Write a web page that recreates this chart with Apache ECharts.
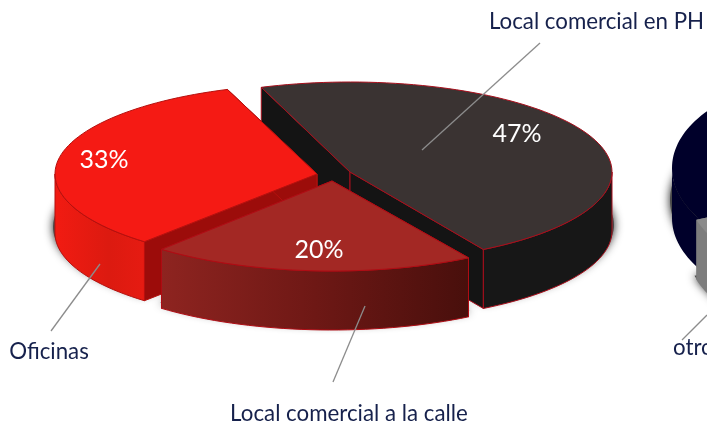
<!DOCTYPE html>
<html><head><meta charset="utf-8">
<style>html,body{margin:0;padding:0;background:#fff}#c{width:707px;height:425px}</style>
<script src="https://cdn.jsdelivr.net/npm/echarts@6/dist/echarts.min.js"></script>
</head><body><div id="c"></div>
<script>
// ---- data
const categories = ['Local comercial en PH', 'Local comercial a la calle', 'Oficinas'];
const shares = [47, 20, 33];
const otherCategories = ['', 'otros'];
const otherShares = [78, 22];

// ---- layout (screen geometry of the oblique pie)
const START = -19.4, RX = 262, RY = 90, DEPTH = 59;
const centers = [[350, 172], [332, 181], [317, 174]];
const rotate = [-0.4, -1.2, -0.6];
const labelPos = [[517, 134], [319, 250], [104, 160]];
const namePos = [[596.5, 22], [349, 414], [49, 352]];
const leaders = [[[540, 43], [422, 150]], [[365, 306], [333, 382]], [[100, 264], [51, 331]], [[707, 315], [682, 340]]];
const otherNamePos = [673, 348];
const drawOrder = [0, 2, 1];
const styles = [
  {top:'#3a3332', wall:'#141414', side:'#171717', stroke:'#a80f1c'},
  {top:'#a32824', wall:'#7a1512', side:{type:'linear',x:0,y:0,x2:1,y2:0,colorStops:[{offset:0,color:'#8e2420'},{offset:.5,color:'#6e1815'},{offset:1,color:'#480f0c'}]}, stroke:'#b00c14'},
  {top:'#f51a14', wall:'#9c0c0a', side:{type:'linear',x:0,y:0,x2:1,y2:0,colorStops:[{offset:0,color:'#f21b12'},{offset:.6,color:'#dc1a10'},{offset:1,color:'#e61b12'}]}, stroke:'#b5100e'}
];
const P2 = {c:[828,168], rx:156, ry:90, depth:50, start:220};
const G2 = {c:[843,189], rx:156, ry:90, depth:60, end:250};

function pt(c, rx, ry, deg, dy){const a=deg*Math.PI/180;return [c[0]+rx*Math.sin(a), c[1]-ry*Math.cos(a)+(dy||0)];}
function arc(c, rx, ry, a0, a1, dy){const n=Math.max(2,Math.ceil(Math.abs(a1-a0)/2)),o=[];for(let i=0;i<=n;i++)o.push(pt(c,rx,ry,a0+(a1-a0)*i/n,dy));return o;}
function poly(points, fill, stroke, w){return {type:'polygon',shape:{points},style:{fill,stroke:stroke||null,lineWidth:w||1,lineJoin:'round'}};}

function slice(c, a0, a1, rx, ry, depth, st){
  const out=[], s=pt(c,rx,ry,a0), e=pt(c,rx,ry,a1);
  const d=p=>[p[0],p[1]+depth];
  out.push(poly([s,c,d(c),d(s)],st.wall,st.stroke));
  out.push(poly([c,e,d(e),d(c)],st.wall,st.stroke));
  // front-facing part of the rim (angles measured clockwise from the top)
  [[90,270],[450,630]].forEach(r=>{
    const f0=Math.max(a0,r[0]), f1=Math.min(a1,r[1]);
    if(f1>f0){
      const t=arc(c,rx,ry,f0,f1,0), b=arc(c,rx,ry,f1,f0,depth);
      out.push(poly(t.concat(b),st.side,st.stroke));
    }
  });
  out.push(poly([c].concat(arc(c,rx,ry,a0,a1,0)),st.top,st.stroke));
  return out;
}
function shadow(c, a0, a1, rx, ry, dy){
  return {type:'polygon',shape:{points:[[c[0],c[1]+dy]].concat(arc(c,rx+2,ry,a0,a1,dy))},
    style:{fill:'#4a4a4a',shadowBlur:10,shadowColor:'rgba(30,30,30,1)'}};
}

const total = shares.reduce((a,b)=>a+b,0);
const angles=[];let acc=START;
shares.forEach((v,i)=>{const w=v/total*360;angles.push([acc+rotate[i],acc+rotate[i]+w]);acc+=w;});
const otherTotal=otherShares.reduce((a,b)=>a+b,0);

function renderNavy(){
  const st={top:'#00002a',wall:'#00002a',side:'#00002a'};
  const a0=P2.start,a1=a0+otherShares[0]/otherTotal*360;
  return {type:'group',children:[shadow(P2.c,a0,a1,P2.rx,P2.ry,P2.depth-18)].concat(slice(P2.c,a0,a1,P2.rx,P2.ry,P2.depth,st))};
}
function renderGrey(){
  const st={top:'#8b8b8b',wall:'#7f7f7f',side:'#7d7d7d'};
  const a1=G2.end,a0=a1-otherShares[1]/otherTotal*360;
  return {type:'group',children:[shadow(G2.c,a0,a1,G2.rx,G2.ry,G2.depth-4)].concat(slice(G2.c,a0,a1,G2.rx,G2.ry,G2.depth,st))};
}

const pctText={fill:'#fff',fontFamily:'Lato',fontSize:25};
const nameText={fill:'#16214c',fontFamily:'Lato',fontSize:22.3};
const chart=echarts.init(document.getElementById('c'),null,{renderer:'canvas'});
const graphic=[];
leaders.forEach(l=>graphic.push({type:'line',z:50,shape:{x1:l[0][0],y1:l[0][1],x2:l[1][0],y2:l[1][1]},style:{stroke:'#8c8c8c',lineWidth:1.3}}));
shares.forEach((v,i)=>{
  graphic.push({type:'text',z:60,x:labelPos[i][0],y:labelPos[i][1],style:Object.assign({text:v+'%',align:'center',verticalAlign:'middle'},pctText)});
  graphic.push({type:'text',z:60,x:namePos[i][0],y:namePos[i][1],style:Object.assign({text:categories[i],align:'center',verticalAlign:'middle'},nameText)});
});
graphic.push({type:'text',z:60,x:otherNamePos[0],y:otherNamePos[1],style:Object.assign({text:otherCategories[1],align:'left',verticalAlign:'middle'},nameText)});

const custom=(fn,data,z)=>({type:'custom',coordinateSystem:'none',silent:true,renderItem:fn,data,z});
const series=[custom(renderNavy,[otherShares[0]],1),custom(renderGrey,[otherShares[1]],2)];
drawOrder.forEach(i=>series.push(custom(()=>({type:'group',children:[shadow(centers[i],angles[i][0],angles[i][1],RX,RY,DEPTH-6)]}),[shares[i]],3)));
drawOrder.forEach((i,k)=>series.push(custom(()=>({type:'group',children:slice(centers[i],angles[i][0],angles[i][1],RX,RY,DEPTH,styles[i])}),[shares[i]],4+k)));

chart.setOption({animation:false,backgroundColor:'#fff',series,graphic});
</script></body></html>
